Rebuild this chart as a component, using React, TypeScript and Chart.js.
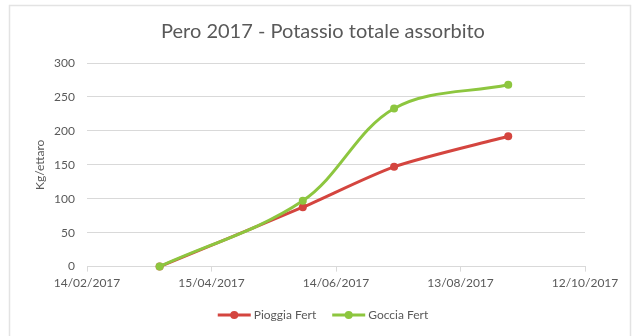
import React, { useEffect, useRef } from "react";
import { Chart, registerables } from "chart.js";

Chart.register(...registerables);

const TITLE = "Pero 2017 - Potassio totale assorbito";
const Y_TITLE = "Kg/ettaro";
const START_DATE = "14/02/2017";
const END_DATE = "12/10/2017";
const TICK_STEP_DAYS = 60;
const SAMPLE_DATES = ["21/03/2017", "29/05/2017", "12/07/2017", "05/09/2017"];
const PIOGGIA_VALUES = [0, 87.5, 147, 192];
const GOCCIA_VALUES = [0, 97, 233, 268];
const SERIES_NAMES = ["Pioggia Fert", "Goccia Fert"];
const Y_MIN = 0;
const Y_MAX = 300;
const Y_STEP = 50;

const RED = "#d4453f";
const GREEN = "#8dc63f";
const TEXT = "#595959";
const FONT = "Lato, 'Open Sans', sans-serif";

function parseDate(s: string): number {
  const [d, m, y] = s.split("/").map(Number);
  return Date.UTC(y, m - 1, d);
}
const DAY = 86400000;
const T0 = parseDate(START_DATE);
const toDay = (s: string) => Math.round((parseDate(s) - T0) / DAY);
const fmtDay = (d: number) => {
  const dt = new Date(T0 + d * DAY);
  const dd = String(dt.getUTCDate()).padStart(2, "0");
  const mm = String(dt.getUTCMonth() + 1).padStart(2, "0");
  return `${dd}/${mm}/${dt.getUTCFullYear()}`;
};

const decorPlugin = {
  id: "decor",
  beforeDraw(chart: any) {
    const ctx = chart.ctx;
    ctx.save();
    ctx.fillStyle = "#ffffff";
    ctx.fillRect(0, 0, chart.width, chart.height);
    ctx.strokeStyle = "#e3e3e3";
    ctx.lineWidth = 1.5;
    ctx.strokeRect(9.5, 5.5, 621, 340);
    ctx.restore();
  },
  afterDraw(chart: any) {
    const ctx = chart.ctx;
    const area = chart.chartArea;
    ctx.save();
    // title
    ctx.fillStyle = TEXT;
    ctx.font = `20px ${FONT}`;
    ctx.textAlign = "center";
    ctx.textBaseline = "middle";
    ctx.fillText(TITLE, 323, 32);
    // y axis title
    ctx.font = `12px ${FONT}`;
    ctx.save();
    ctx.translate(40, (area.top + area.bottom) / 2);
    ctx.rotate(-Math.PI / 2);
    ctx.fillText(Y_TITLE, 0, 0);
    ctx.restore();
    // legend
    const lineW = 33;
    const gapText = 3;
    const gapItem = 16;
    ctx.font = `12px ${FONT}`;
    const items = chart.data.datasets.map((ds: any) => ({
      label: ds.label as string,
      color: ds.borderColor as string,
      w: ctx.measureText(ds.label).width,
    }));
    const total =
      items.reduce((s: number, it: any) => s + lineW + gapText + it.w, 0) +
      gapItem * (items.length - 1);
    let x = 323 - total / 2;
    const y = 315;
    ctx.textAlign = "left";
    for (const it of items) {
      ctx.strokeStyle = it.color;
      ctx.lineWidth = 3;
      ctx.beginPath();
      ctx.moveTo(x, y);
      ctx.lineTo(x + lineW, y);
      ctx.stroke();
      ctx.fillStyle = it.color;
      ctx.beginPath();
      ctx.arc(x + lineW / 2, y, 4, 0, Math.PI * 2);
      ctx.fill();
      ctx.fillStyle = TEXT;
      ctx.fillText(it.label, x + lineW + gapText, y);
      x += lineW + gapText + it.w + gapItem;
    }
    ctx.restore();
  },
};

export default function App() {
  const ref = useRef<HTMLCanvasElement>(null);
  useEffect(() => {
    const days = SAMPLE_DATES.map(toDay);
    const mk = (vals: number[]) => vals.map((v, i) => ({ x: days[i], y: v }));
    const chart = new Chart(ref.current!, {
      type: "line",
      data: {
        datasets: [
          {
            label: SERIES_NAMES[0],
            data: mk(PIOGGIA_VALUES),
            borderColor: RED,
            backgroundColor: RED,
            borderWidth: 3,
            pointRadius: 4,
            pointBorderWidth: 0,
            pointStyle: "circle",
            tension: 0.25,
            clip: false as any,
            order: 1,
          },
          {
            label: SERIES_NAMES[1],
            data: mk(GOCCIA_VALUES),
            borderColor: GREEN,
            backgroundColor: GREEN,
            borderWidth: 3,
            pointRadius: 4,
            pointBorderWidth: 0,
            pointStyle: "circle",
            tension: 0.35,
            clip: false as any,
            order: 0,
          },
        ],
      },
      options: {
        responsive: false,
        animation: false,
        layout: { padding: { left: 54, right: 48, top: 63, bottom: 42 } },
        plugins: {
          title: { display: false },
          legend: { display: false },
          tooltip: { enabled: false },
        },
        scales: {
          x: {
            type: "linear",
            min: 0,
            max: toDay(END_DATE),
            ticks: {
              stepSize: TICK_STEP_DAYS,
              color: TEXT,
              font: { family: FONT, size: 12 },
              maxRotation: 0,
              callback: (v: any) => fmtDay(Number(v)),
              padding: 4,
            },
            grid: {
              drawOnChartArea: false,
              drawTicks: true,
              tickLength: 5,
              color: "#d9d9d9",
            },
            border: { color: "#d9d9d9", width: 1 },
          },
          y: {
            min: Y_MIN,
            max: Y_MAX,
            afterFit: (s: any) => {
              s.width = 33;
            },
            ticks: {
              stepSize: Y_STEP,
              color: TEXT,
              font: { family: FONT, size: 12 },
              padding: 12,
            },
            grid: { color: "#d9d9d9", drawTicks: false, lineWidth: 1 },
            border: { display: false },
          },
        },
      },
      plugins: [decorPlugin],
    });
    return () => chart.destroy();
  }, []);
  return (
    <div style={{ position: "absolute", left: 0, top: 0, width: 633, height: 336 }}>
      <canvas ref={ref} width={633} height={336} style={{ display: "block" }} />
    </div>
  );
}
